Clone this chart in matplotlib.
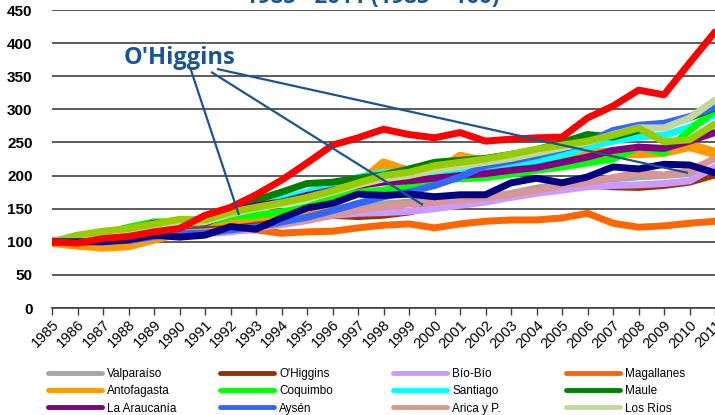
import matplotlib
matplotlib.use('Agg')
import matplotlib.pyplot as plt
from matplotlib.lines import Line2D

# Datos: indice regional 1985-2011 (1985 = 100)
anios = list(range(1985, 2012))

valparaiso = [100, 102, 105, 108, 112, 115, 115, 120, 122, 128, 135, 143, 150, 157,
              160, 163, 165, 168, 173, 181, 187, 193, 195, 198, 200, 203, 210]
ohiggins = [100, 102, 105, 108, 112, 115, 118, 120, 125, 130, 135, 140, 138, 140,
            145, 153, 158, 163, 170, 178, 183, 186, 183, 182, 185, 190, 201]
biobio = [100, 100, 102, 104, 108, 110, 112, 115, 120, 128, 135, 140, 143, 144,
          146, 150, 155, 160, 167, 173, 178, 183, 185, 186, 188, 192, 213]
magallanes = [100, 100, 102, 104, 110, 113, 115, 117, 118, 113, 115, 116, 121, 125,
              127, 121, 127, 131, 133, 133, 136, 143, 128, 122, 124, 128, 131]
antofagasta = [100, 96, 93, 95, 105, 115, 118, 125, 133, 140, 147, 155, 185, 218,
               205, 200, 228, 220, 222, 228, 230, 233, 235, 234, 236, 245, 234]
coquimbo = [100, 105, 112, 122, 130, 130, 128, 138, 140, 145, 153, 165, 175, 178,
            185, 193, 195, 197, 202, 208, 213, 219, 225, 243, 234, 268, 299]
santiago = [100, 102, 108, 112, 118, 125, 130, 145, 155, 165, 175, 185, 197, 205,
            205, 205, 208, 213, 217, 222, 231, 243, 252, 258, 261, 273, 292]
maule = [100, 103, 108, 112, 118, 125, 130, 150, 163, 175, 188, 190, 196, 201,
         210, 220, 223, 226, 232, 239, 250, 262, 258, 268, 275, 287, 302]
araucania = [100, 103, 110, 118, 128, 130, 128, 145, 155, 160, 170, 178, 185, 190,
             192, 196, 200, 203, 208, 212, 220, 228, 238, 243, 241, 252, 265]
aysen = [100, 100, 101, 102, 108, 112, 113, 118, 122, 130, 137, 147, 158, 168,
         175, 185, 198, 215, 222, 230, 240, 250, 268, 276, 279, 289, 304]
arica = [100, 101, 103, 106, 110, 113, 115, 118, 121, 126, 132, 140, 148, 153,
         157, 160, 163, 167, 172, 178, 185, 190, 197, 204, 201, 207, 226]
los_rios = [100, 104, 110, 115, 122, 128, 130, 142, 150, 157, 165, 175, 186, 195,
            200, 208, 214, 220, 226, 234, 242, 250, 262, 272, 272, 287, 314]

# series sin entrada visible en la leyenda
serie_verde_lima = [100, 110, 116, 120, 127, 134, 133, 145, 152, 159, 167, 177, 189, 200,
                    205, 215, 220, 225, 232, 240, 246, 252, 261, 272, 251, 254, 278]
serie_azul_marino = [100, 100, 100, 103, 110, 107, 110, 123, 119, 136, 151, 158, 172, 170,
                     172, 168, 171, 171, 189, 196, 189, 198, 213, 210, 217, 216, 204]
serie_roja = [100, 98, 105, 108, 115, 120, 140, 152, 171, 193, 219, 246, 257, 270,
              262, 257, 265, 252, 255, 257, 258, 287, 305, 329, 322, 370, 417]

leyenda = [
    ('Valparaíso', '#A6A6A6'), ("O'Higgins", '#993300'), ('Bío-Bío', '#CC99FF'),
    ('Magallanes', '#FF6600'), ('Antofagasta', '#FF9900'), ('Coquimbo', '#00FF00'),
    ('Santiago', '#00FFFF'), ('Maule', '#008000'), ('La Araucanía', '#800080'),
    ('Aysén', '#3366FF'), ('Arica y P.', '#DA9694'), ('Los Ríos', '#C4D79B'),
]

azul = '#1A5590'

fig = plt.figure(figsize=(7.15, 4.15), dpi=100)
W, H = 715.0, 415.0
ax = fig.add_axes([52 / W, (H - 308) / H, (740 - 52) / W, 298 / H])

# orden de dibujo (de abajo hacia arriba)
series = [
    (antofagasta, '#FF9900', 7.5),
    (magallanes, '#FF6600', 5),
    (valparaiso, '#A6A6A6', 5),
    (ohiggins, '#993300', 5),
    (biobio, '#CC99FF', 5),
    (arica, '#DA9694', 5),
    (santiago, '#00FFFF', 5),
    (coquimbo, '#00FF00', 5),
    (maule, '#008000', 5),
    (araucania, '#800080', 5),
    (aysen, '#3366FF', 5),
    (los_rios, '#C4D79B', 5),
    (serie_verde_lima, '#99CC00', 5),
    (serie_azul_marino, '#000080', 5),
    (serie_roja, '#FF0000', 5),
]
for valores, color, lw in series:
    ax.plot(anios, valores, color=color, lw=lw, solid_joinstyle='round',
            solid_capstyle='round', zorder=3)

ax.set_xlim(1985, 1985 + (740 - 52) / 25.5)
ax.set_ylim(0, 450)
ax.set_yticks(range(0, 451, 50))
ax.set_xticks(anios)
ax.set_xticklabels([str(a) for a in anios], rotation=45, ha='right', va='top',
                   rotation_mode='anchor', fontsize=10.5, family='Liberation Sans')
for lbl in ax.get_yticklabels():
    lbl.set_fontweight('bold')
    lbl.set_fontsize(11)
    lbl.set_family('Liberation Sans')

ax.grid(axis='y', color='#404040', lw=1.2, zorder=1)
ax.set_axisbelow(True)
for s in ['top', 'right', 'left']:
    ax.spines[s].set_visible(False)
ax.spines['bottom'].set_color('#404040')
ax.spines['bottom'].set_linewidth(1.2)
ax.tick_params(axis='y', length=0, pad=14)
ax.tick_params(axis='x', direction='out', length=5, color='#404040', width=1, pad=2)

# anotacion O'Higgins
ax.text(1990.0, 368.6, "O'Higgins", color=azul, fontsize=17, fontweight='bold',
        family='Open Sans', ha='center', va='baseline', zorder=5)
for (x0, y0), (x1, y1) in [((1990.41, 364), (1992.33, 140.5)),
                           ((1991.24, 356.5), (1999.55, 155.6)),
                           ((1991.47, 361), (2009.94, 204))]:
    ax.plot([x0, x1], [y0, y1], color=azul, lw=1.6, zorder=6, solid_capstyle='butt')

# titulo (cortado en el borde superior)
fig.text(372.5 / W, 1 - 3 / H, '1985 - 2011 (1985 = 100)', color=azul, fontsize=16,
         fontweight='bold', family='Open Sans', ha='center', va='baseline')

# leyenda en 4 columnas
x_cols = [48, 220, 393, 566]
for c in range(4):
    items = [leyenda[c + 4 * r] for r in range(3)]
    handles = [Line2D([], [], color=col, lw=3.5, solid_capstyle='round') for _, col in items]
    fig.legend(handles, [n for n, _ in items], loc='upper left',
               bbox_to_anchor=(x_cols[c] / W, 1 - 368 / H), frameon=False,
               prop={'family': 'Liberation Sans', 'size': 8.5}, handlelength=4.6,
               handletextpad=0.4, labelspacing=0.45, borderaxespad=0, borderpad=0)

fig.savefig('out.png', dpi=100)
